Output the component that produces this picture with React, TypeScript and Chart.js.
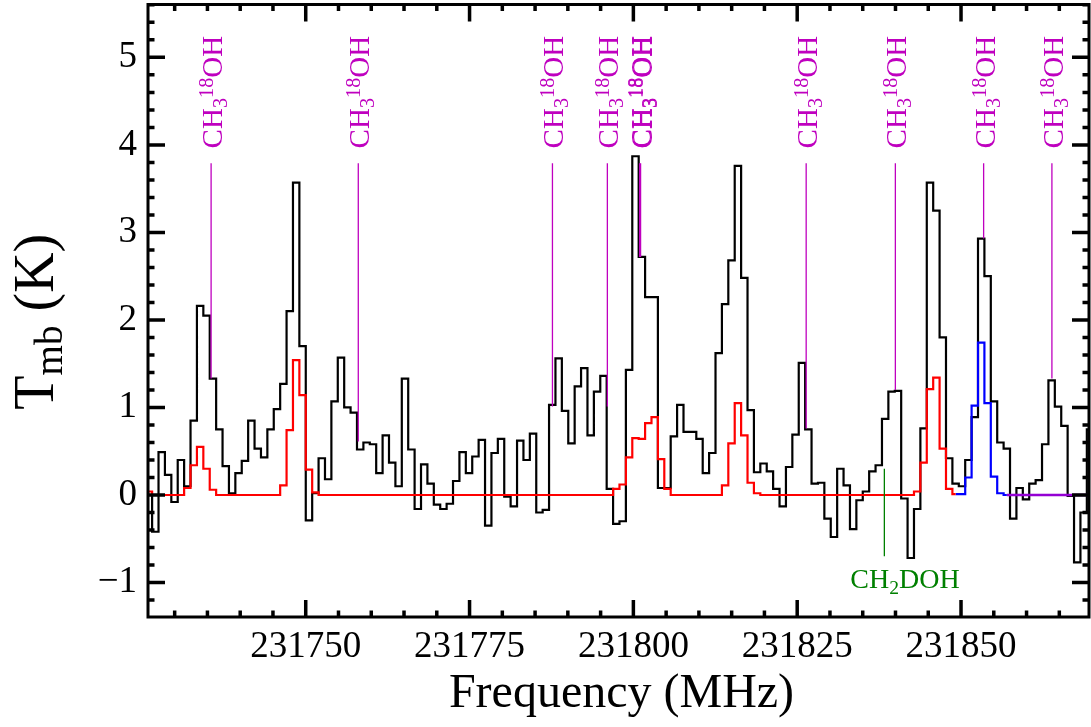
import React, { useEffect, useRef } from "react";
import { Chart, registerables } from "chart.js";

Chart.register(...registerables);

// channel grid of the spectrum (MHz)
const chanStart = 231726.07;
const chanWidth = 0.977;

// observed spectrum, Tmb (K), one value per channel
const observed = [
  0.0, -0.42, 0.49, 0.23, -0.08, 0.4, 0.1, 0.85, 2.16, 2.05,
  1.33, 0.75, 0.33, 0.02, 0.25, 0.39, 0.85, 0.53, 0.43, 0.75,
  0.98, 1.27, 2.1, 3.57, 1.7, -0.29, 0.02, 0.42, 0.18, 1.07,
  1.57, 1.0, 0.94, 0.52, 0.6, 0.58, 0.25, 0.68, 0.37, 0.1,
  1.33, 0.52, -0.16, 0.35, 0.13, -0.11, -0.16, -0.1, 0.16, 0.49,
  0.25, 0.44, 0.63, -0.35, 0.48, 0.64, -0.02, -0.13, 0.62, 0.4,
  0.7, -0.2, -0.17, 1.03, 1.56, 0.96, 0.59, 1.24, 1.45, 0.68,
  1.18, 1.36, 0.07, -0.33, -0.3, 1.43, 3.87, 2.72, 2.26, 2.26,
  0.08, 0.08, 0.67, 1.03, 0.72, 0.72, 0.64, 0.25, 0.48, 1.62,
  2.18, 2.68, 3.76, 2.48, 0.97, 0.26, 0.36, 0.27, 0.07, -0.13,
  0.32, 0.69, 1.51, 0.75, 0.13, 0.14, -0.27, -0.48, 0.3, 0.11,
  -0.39, -0.06, 0.04, 0.27, 0.34, 0.87, 1.18, 1.19, -0.04, -0.72,
  -0.16, 0.76, 3.57, 3.25, 1.8, 0.42, 0.13, 0.1, 0.4, 0.89,
  2.93, 2.5, 1.07, 0.6, 0.53, -0.27, 0.08, -0.05, 0.13, 0.17,
  0.58, 1.31, 1.01, 0.79, -0.01, -0.77, -0.2, 0.75, 0.75,
];

// LTE models (start channel index into the grid)
const redStart = 0;
const modelRed = [
  0.04, 0, 0, 0, 0, 0, 0.08, 0.34, 0.55, 0.3,
  0.06, 0, 0, 0, 0, 0, 0, 0, 0, 0,
  0, 0.11, 0.74, 1.54, 1.14, 0.29, 0.03, 0, 0, 0,
  0, 0, 0, 0, 0, 0, 0, 0, 0, 0,
  0, 0, 0, 0, 0, 0, 0, 0, 0, 0,
  0, 0, 0, 0, 0, 0, 0, 0, 0, 0,
  0, 0, 0, 0, 0, 0, 0, 0, 0, 0,
  0, 0, 0, 0.07, 0.12, 0.43, 0.65, 0.64, 0.82, 0.89,
  0.41, 0.07, 0, 0, 0, 0, 0, 0, 0, 0,
  0.11, 0.59, 1.05, 0.68, 0.14, 0.02, 0, 0, 0, 0,
  0, 0, 0, 0, 0, 0, 0, 0, 0, 0,
  0, 0, 0, 0, 0, 0, 0, 0, 0, 0,
  0.04, 0.37, 1.21, 1.34, 0.53, 0.07, 0.01,
];
const blueStart = 126;
const modelBlue = [0.01, 0.01, 0.2, 1.02, 1.74, 1.05, 0.21, 0.02, 0.0];
const purpleStart = 134;
const modelPurple = [0, 0, 0, 0, 0, 0, 0, 0, 0, 0, 0, 0, 0, 0, 0];

// line identifications
const methFreqs = [
  231735.56, 231758.02, 231787.65, 231796.03, 231800.95, 231801.1,
  231826.37, 231839.98, 231853.45, 231863.87,
];
const methBase = [1.33, 0.61, 1.01, 1.01, 2.72, 2.72, 0.76, 1.2, 2.93, 1.33];
const methTop = 3.79;
const methLabelBase = 3.96;
const dFreqs = [231838.3];
const dRange = [0.3, -0.7];

const xTicks = [231750, 231775, 231800, 231825, 231850];
const yTicks = [-1, 0, 1, 2, 3, 4, 5];

const FONT = "'Liberation Serif', 'Times New Roman', serif";
const MAGENTA = "#bf00bf";
const GREEN = "#008000";

type Part = { t: string; k?: "sub" | "sup" };

const drawRich = (ctx: CanvasRenderingContext2D, parts: Part[], size: number, subDy: number, supDy: number) => {
  let x = 0;
  parts.forEach((p) => {
    const s = p.k ? size * 0.7 : size;
    ctx.font = `${s}px ${FONT}`;
    const dy = p.k === "sub" ? subDy : p.k === "sup" ? supDy : 0;
    ctx.fillText(p.t, x, dy);
    x += ctx.measureText(p.t).width;
  });
  return x;
};

const toPoints = (vals: number[], start: number) =>
  vals.map((v, i) => ({ x: chanStart + (start + i) * chanWidth, y: v }));

const noPad = (s: any) => {
  s.paddingTop = 0;
  s.paddingBottom = 0;
  s.paddingLeft = 0;
  s.paddingRight = 0;
};

const decorPlugin = {
  id: "decor",
  afterDatasetsDraw(chart: any) {
    const { ctx, chartArea } = chart;
    const xs = chart.scales.x;
    const ys = chart.scales.y;
    const { left, right, top, bottom } = chartArea;
    ctx.save();
    ctx.strokeStyle = "#000";
    ctx.lineCap = "butt";

    // inward ticks
    ctx.lineWidth = 3.5;
    for (let f = 231730; f <= 231869; f += 5) {
      const px = xs.getPixelForValue(f);
      const len = f % 25 === 0 ? 17 : 6.5;
      ctx.beginPath();
      ctx.moveTo(px, bottom);
      ctx.lineTo(px, bottom - len);
      ctx.moveTo(px, top);
      ctx.lineTo(px, top + len);
      ctx.stroke();
    }
    for (let i = -6; i <= 28; i++) {
      const py = ys.getPixelForValue(i / 5);
      const len = i % 5 === 0 ? 17 : 6.5;
      ctx.beginPath();
      ctx.moveTo(left, py);
      ctx.lineTo(left + len, py);
      ctx.moveTo(right, py);
      ctx.lineTo(right - len, py);
      ctx.stroke();
    }

    // frame
    ctx.lineWidth = 3;
    ctx.strokeRect(left, top, right - left, bottom - top);

    // CH3^18OH labels
    ctx.fillStyle = MAGENTA;
    ctx.textBaseline = "alphabetic";
    ctx.textAlign = "left";
    methFreqs.forEach((f) => {
      ctx.save();
      ctx.translate(xs.getPixelForValue(f) + 11, ys.getPixelForValue(methLabelBase));
      ctx.rotate(-Math.PI / 2);
      drawRich(ctx, [{ t: "CH" }, { t: "3", k: "sub" }, { t: "18", k: "sup" }, { t: "OH" }], 29, 5, -9);
      ctx.restore();
    });

    // CH2DOH label
    ctx.fillStyle = GREEN;
    dFreqs.forEach((f) => {
      ctx.save();
      ctx.translate(xs.getPixelForValue(f) - 34, bottom - 29);
      drawRich(ctx, [{ t: "CH" }, { t: "2", k: "sub" }, { t: "DOH" }], 28, 6, -9);
      ctx.restore();
    });

    // axis titles
    ctx.fillStyle = "#000";
    ctx.font = `48px ${FONT}`;
    ctx.textAlign = "center";
    ctx.fillText("Frequency (MHz)", (left + right) / 2 + 3, bottom + 90);

    ctx.save();
    ctx.textAlign = "left";
    ctx.translate(53, (top + bottom) / 2 + 99);
    ctx.rotate(-Math.PI / 2);
    drawRich(ctx, [{ t: "T" }, { t: "mb", k: "sub" }, { t: " (K)" }], 56, 9, -12);
    ctx.restore();

    ctx.restore();
  },
};

const App = () => {
  const canvasRef = useRef<HTMLCanvasElement>(null);
  const chartRef = useRef<any>(null);

  useEffect(() => {
    if (!canvasRef.current) return;
    const ctx: any = canvasRef.current.getContext("2d");

    const stepLine = (data: any[], color: string, width: number) => ({
      data,
      borderColor: color,
      borderWidth: width,
      stepped: "middle",
      pointRadius: 0,
      fill: false,
      order: 1,
    });

    const vline = (f: number, y0: number, y1: number, color: string) => ({
      data: [
        { x: f, y: y0 },
        { x: f, y: y1 },
      ],
      borderColor: color,
      borderWidth: 1.3,
      pointRadius: 0,
      fill: false,
      order: 0,
    });

    const datasets: any[] = [
      { ...stepLine(toPoints(observed, 0), "#000000", 2.2), order: 2 },
      stepLine(toPoints(modelRed, redStart), "#ff0000", 2.2),
      stepLine(toPoints(modelBlue, blueStart), "#0000ff", 2.2),
      stepLine(toPoints(modelPurple, purpleStart), "#9400d3", 2.4),
      ...methFreqs.map((f, i) => vline(f, methBase[i], methTop, MAGENTA)),
      ...dFreqs.map((f) => vline(f, dRange[0], dRange[1], GREEN)),
    ];

    chartRef.current = new Chart(ctx, {
      type: "line",
      data: { datasets },
      options: {
        animation: false,
        responsive: true,
        maintainAspectRatio: false,
        events: [],
        layout: { padding: { left: 0, top: 4.5, right: 2, bottom: 0 }, autoPadding: false },
        plugins: { legend: { display: false }, tooltip: { enabled: false } },
        scales: {
          x: {
            type: "linear",
            min: 231725.93,
            max: 231869.53,
            afterFit: (s: any) => {
              s.height = 110;
              noPad(s);
            },
            afterBuildTicks: (s: any) => {
              s.ticks = xTicks.map((v) => ({ value: v }));
            },
            grid: { display: false, drawTicks: false },
            border: { display: false },
            ticks: {
              padding: 8,
              maxRotation: 0,
              autoSkip: false,
              color: "#000",
              font: { family: FONT, size: 37 },
              callback: (v: any) => String(v),
            },
          },
          y: {
            type: "linear",
            min: -1.394,
            max: 5.604,
            afterFit: (s: any) => {
              s.width = 148;
              noPad(s);
            },
            afterBuildTicks: (s: any) => {
              s.ticks = yTicks.map((v) => ({ value: v }));
            },
            grid: { display: false, drawTicks: false },
            border: { display: false },
            ticks: {
              padding: 11,
              color: "#000",
              font: { family: FONT, size: 37 },
              callback: (v: any) => (v < 0 ? "\u2212" + Math.abs(v) : String(v)),
            },
          },
        },
      },
      plugins: [decorPlugin],
    });

    return () => {
      if (chartRef.current) {
        chartRef.current.destroy();
        chartRef.current = null;
      }
    };
  }, []);

  return (
    <div
      style={{
        position: "absolute",
        left: 0,
        top: 0,
        width: "1091px",
        height: "727px",
        background: "#fff",
      }}
    >
      <canvas ref={canvasRef} style={{ display: "block" }} />
    </div>
  );
};

export default App;
